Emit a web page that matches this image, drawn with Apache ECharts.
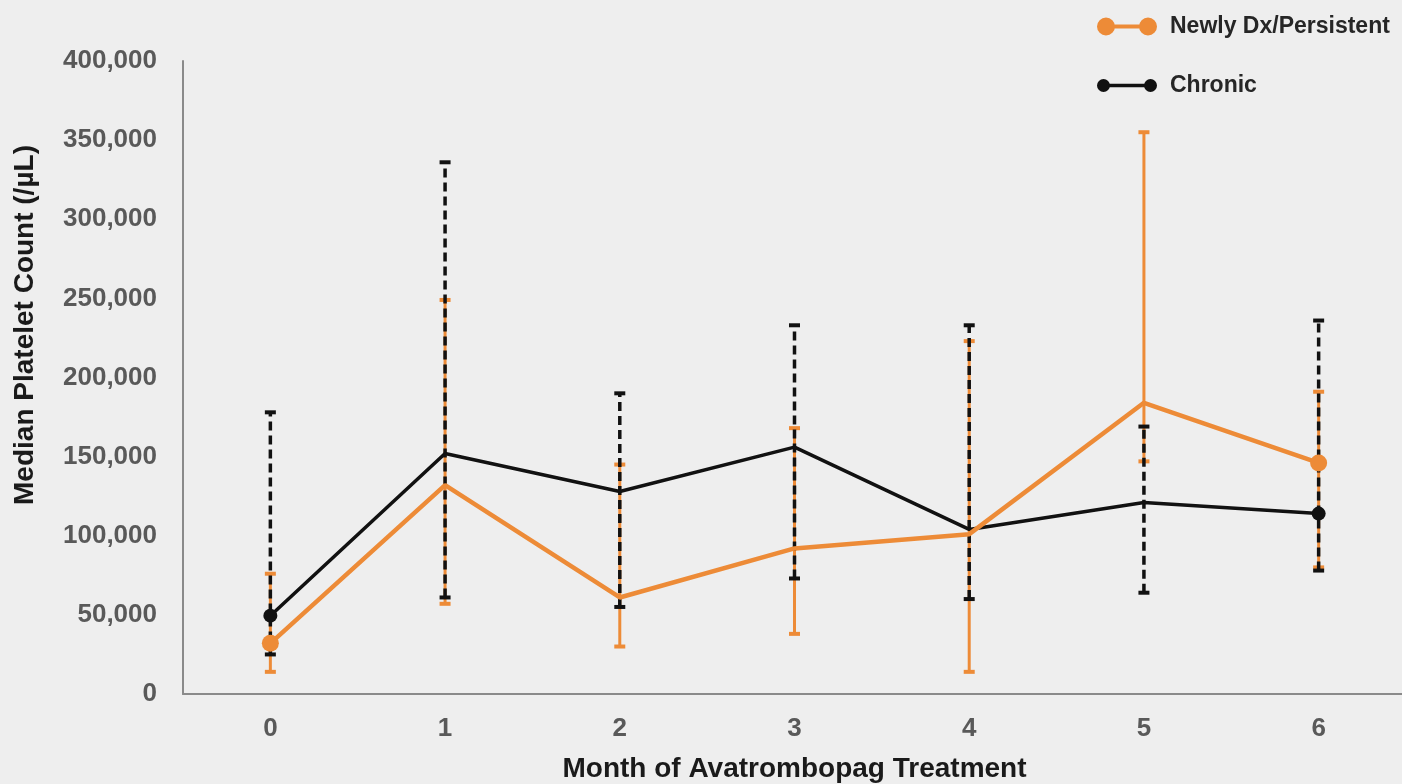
<!DOCTYPE html>
<html>
<head>
<meta charset="utf-8">
<script src="https://cdn.jsdelivr.net/npm/echarts@6/dist/echarts.min.js"></script>
<style>
  html, body { margin: 0; padding: 0; background: #eeeeee; }
  #chart { width: 1402px; height: 784px; }
</style>
</head>
<body>
<div id="chart"></div>
<script>
// months on the x axis
var months = ["0", "1", "2", "3", "4", "5", "6"];

// Newly Dx/Persistent: median and range
var newlyMedian = [32000, 132000, 61000, 92000, 101000, 184000, 146000];
var newlyLow = [14000, 57000, 30000, 38000, 14000, 147000, 80000];
var newlyHigh = [76000, 249000, 145000, 168000, 223000, 355000, 191000];

// Chronic: median and range
var chronicMedian = [49500, 152000, 128000, 156000, 104000, 121000, 114000];
var chronicLow = [25000, 61000, 55000, 73000, 60000, 64000, 78000];
var chronicHigh = [178000, 336000, 190000, 233000, 233000, 169000, 236000];

var yTicks = [0, 50000, 100000, 150000, 200000, 250000, 300000, 350000, 400000];

var orange = "#ed8b37";
var black = "#111111";
var font = "Liberation Sans, Arial, sans-serif";

var chart = echarts.init(document.getElementById("chart"));

function errorBar(color, dashed, lineW, capW, capH) {
  return function (params, api) {
    var x = api.value(0);
    var lo = api.coord([x, api.value(1)]);
    var hi = api.coord([x, api.value(2)]);
    return {
      type: "group",
      children: [
        {
          type: "line",
          shape: { x1: lo[0], y1: lo[1], x2: hi[0], y2: hi[1] },
          style: { stroke: color, lineWidth: lineW, lineDash: dashed ? [9, 5] : null }
        },
        {
          type: "line",
          shape: { x1: lo[0] - capW / 2, y1: lo[1], x2: lo[0] + capW / 2, y2: lo[1] },
          style: { stroke: color, lineWidth: capH }
        },
        {
          type: "line",
          shape: { x1: hi[0] - capW / 2, y1: hi[1], x2: hi[0] + capW / 2, y2: hi[1] },
          style: { stroke: color, lineWidth: capH }
        }
      ]
    };
  };
}

function rangeData(low, high) {
  return months.map(function (m, i) { return [i, low[i], high[i]]; });
}

// only first and last points carry a dot
function lineData(values) {
  return values.map(function (v, i) {
    var ends = i === 0 || i === values.length - 1;
    return { value: v, symbol: ends ? "circle" : "none" };
  });
}

var legendText = {
  color: "#262626",
  fontSize: 23,
  fontWeight: "bold",
  fontFamily: font,
  padding: [0, 0, 0, 8]
};

var option = {
  backgroundColor: "#eeeeee",
  animation: false,
  textStyle: { fontFamily: font },
  grid: { left: 183, top: 61, width: 1223, height: 633, outerBoundsMode: "none" },
  legend: [
    {
      left: 1092, top: 10,
      itemWidth: 60, itemHeight: 18,
      data: [{
        name: "Newly Dx/Persistent",
        icon: "path://M0,9a9,9 0 1,1 18,0a9,9 0 1,1 -18,0Z M42,9a9,9 0 1,1 18,0a9,9 0 1,1 -18,0Z M17,7h26v4h-26Z"
      }],
      textStyle: legendText
    },
    {
      left: 1092, top: 69,
      itemWidth: 60, itemHeight: 13,
      data: [{
        name: "Chronic",
        icon: "path://M0,6.5a6.5,6.5 0 1,1 13,0a6.5,6.5 0 1,1 -13,0Z M47,6.5a6.5,6.5 0 1,1 13,0a6.5,6.5 0 1,1 -13,0Z M12,4.8h36v3.4h-36Z"
      }],
      textStyle: legendText
    }
  ],
  xAxis: {
    type: "category",
    data: months,
    boundaryGap: true,
    axisLine: { show: true, lineStyle: { color: "#8a8a8a", width: 2 } },
    axisTick: { show: false },
    axisLabel: { color: "#595959", fontSize: 26, fontWeight: "bold", margin: 22 },
    name: "Month of Avatrombopag Treatment",
    nameLocation: "middle",
    nameGap: 61,
    nameTextStyle: { color: "#1a1a1a", fontSize: 28, fontWeight: "bold" }
  },
  yAxis: {
    type: "value",
    min: 0,
    max: 400000,
    interval: 50000,
    axisLine: { show: true, lineStyle: { color: "#8a8a8a", width: 2 } },
    axisTick: { show: false },
    splitLine: { show: false },
    axisLabel: {
      color: "#595959", fontSize: 26, fontWeight: "bold", margin: 26,
      formatter: function (v) { return yTicks.indexOf(v) >= 0 ? v.toLocaleString("en-US") : ""; }
    }
  },
  graphic: [{
    type: "text",
    x: 25, y: 325,
    rotation: Math.PI / 2,
    style: {
      text: "Median Platelet Count (/µL)",
      fill: "#1a1a1a",
      font: "bold 28px " + font,
      textAlign: "center",
      textVerticalAlign: "middle"
    }
  }],
  series: [
    {
      type: "custom",
      name: "newlyRange",
      z: 2,
      renderItem: errorBar(orange, false, 3, 11, 4),
      encode: { x: 0, y: [1, 2] },
      data: rangeData(newlyLow, newlyHigh)
    },
    {
      type: "custom",
      name: "chronicRange",
      z: 3,
      renderItem: errorBar(black, true, 3.5, 11, 4),
      encode: { x: 0, y: [1, 2] },
      data: rangeData(chronicLow, chronicHigh)
    },
    {
      type: "line",
      name: "Chronic",
      z: 4,
      data: lineData(chronicMedian),
      symbolSize: 14,
      color: black,
      lineStyle: { color: black, width: 3.5 },
      itemStyle: { color: black }
    },
    {
      type: "line",
      name: "Newly Dx/Persistent",
      z: 5,
      data: lineData(newlyMedian),
      symbolSize: 17,
      color: orange,
      lineStyle: { color: orange, width: 4.5 },
      itemStyle: { color: orange }
    }
  ]
};

chart.setOption(option);
</script>
</body>
</html>
